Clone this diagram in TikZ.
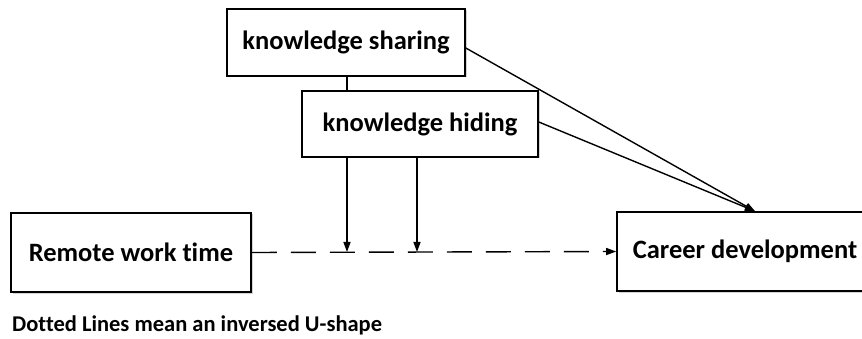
\documentclass[tikz,border=0pt]{standalone}
\usepackage{fontspec}
\setmainfont{Carlito}[Ligatures=CommonOff]
\usetikzlibrary{arrows.meta,shadows}
\begin{document}
\begin{tikzpicture}[x=1pt,y=-1pt,
  box/.style={draw=black,line width=1.6pt,fill=white,inner sep=0pt,
    font=\bfseries\fontsize{26.5}{30}\selectfont,
    drop shadow={shadow xshift=1.5pt,shadow yshift=-1.5pt,opacity=0.35,fill=gray}},
  conn/.style={line width=1.4pt,-{Triangle[length=10pt,width=7pt]}},
  plain/.style={line width=1.4pt},
  dashconn/.style={line width=1.4pt,dash pattern=on 25pt off 14pt,-{Triangle[length=10pt,width=7pt]}},
  note/.style={font=\bfseries\fontsize{22.5}{26}\selectfont,anchor=west,inner sep=0pt}]
\useasboundingbox (0,0) rectangle (862,339);
\node[box,minimum width=238pt,minimum height=67pt] (sharing) at (346,42.5) {knowledge sharing};
\node[box,minimum width=236pt,minimum height=66pt] (hiding) at (420,124) {knowledge hiding};
\node[box,minimum width=240pt,minimum height=79pt] (remote) at (131,252.5) {Remote work time};
\node[box,minimum width=256pt,minimum height=79pt] (career) at (745,251.5) {Career development};
\coordinate (m1) at (347,252);
\coordinate (m2) at (417,252);
\draw[plain] (sharing.south -| m1) -- (hiding.north -| m1);
\draw[dashconn] (remote.east) -- (career.west);
\draw[conn] (hiding.south -| m1) -- (m1);
\draw[conn] (hiding.south -| m2) -- (m2);
\draw[conn] ([yshift=-5.5pt]sharing.east) -- ([xshift=10pt]career.north);
\draw[conn] ([yshift=2pt]hiding.east) -- ([xshift=10pt]career.north);
\node[note] (legend) at (12,325) {Dotted Lines mean an inversed U-shape};
\end{tikzpicture}
\end{document}
